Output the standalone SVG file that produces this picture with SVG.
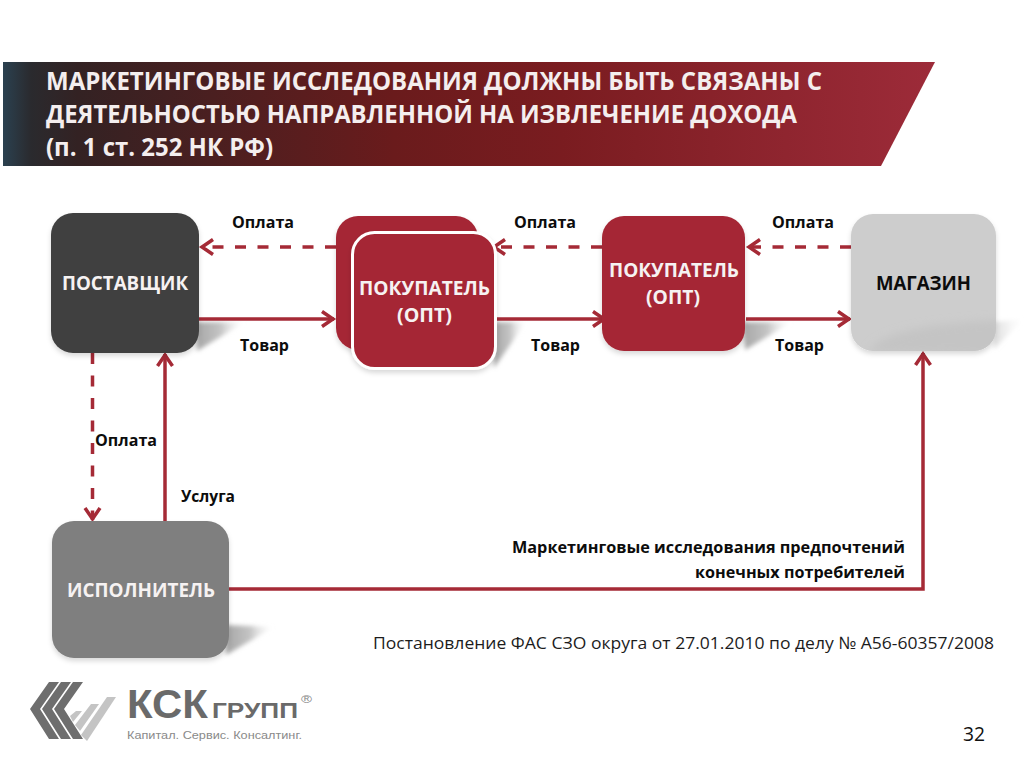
<svg xmlns="http://www.w3.org/2000/svg" width="1024" height="768" viewBox="0 0 1024 768">
<style>
text{font-family:"Open Sans","Liberation Sans",sans-serif}
.t{font-size:24.5px;font-weight:700;fill:#f4eeee}
.n{font-size:19.5px;font-weight:700;fill:#f6f2f2}
.l{font-size:16.5px;font-weight:700;fill:#0c0c0c}
.c{fill:none;stroke:#a52a36;stroke-width:3.5}
.d{stroke-dasharray:11 11.5}
.red{fill:#a52835}
.sh{fill:url(#sg);filter:url(#b)}
.g1{fill:#6e6e6e}.g2{fill:#c4c4c4}
.lg{font-family:"Liberation Sans",sans-serif}
</style>
<defs>
<linearGradient id="tg" x1="0" y1="0" x2="1" y2="0">
<stop offset="0" stop-color="#2b4150"/><stop offset="0.03" stop-color="#2a2a2e"/><stop offset="0.08" stop-color="#332223"/><stop offset="0.42" stop-color="#6a1b1c"/><stop offset="0.6" stop-color="#7a1c20"/><stop offset="1" stop-color="#9d2b39"/>
</linearGradient>
<linearGradient id="sg" x1="0" y1="0" x2="1" y2="0"><stop offset="0" stop-color="#a6a6a6"/><stop offset="0.5" stop-color="#c4c4c4"/><stop offset="1" stop-color="#f2f2f2" stop-opacity="0"/></linearGradient>
<linearGradient id="sg2" x1="0" y1="0" x2="1" y2="0"><stop offset="0" stop-color="#dcdcdc"/><stop offset="1" stop-color="#f6f6f6" stop-opacity="0"/></linearGradient>
<filter id="b" x="-20%" y="-20%" width="140%" height="140%"><feGaussianBlur stdDeviation="2.200"/></filter>
<filter id="b2" x="-20%" y="-40%" width="140%" height="180%"><feGaussianBlur stdDeviation="4"/></filter>
<filter id="s" x="-10%" y="-10%" width="120%" height="125%"><feDropShadow dx="0" dy="3" stdDeviation="2.500" flood-color="#000" flood-opacity="0.15"/></filter>
<clipPath id="mc"><rect x="851" y="214" width="145" height="137" rx="22"/></clipPath>
<marker id="a" markerUnits="userSpaceOnUse" markerWidth="20" markerHeight="20" viewBox="-16 -10 20 20" refX="0" refY="0" orient="auto" overflow="visible">
<path d="M-12,-7.500 L-1,0 L-12,7.500" fill="none" stroke="#a52a36" stroke-width="3.500"/>
</marker>
</defs>

<g id="title">
<polygon points="3,62 935,62 881,166 3,166" fill="url(#tg)"/>
<text class="t" x="46" y="90" textLength="776" lengthAdjust="spacingAndGlyphs">МАРКЕТИНГОВЫЕ ИССЛЕДОВАНИЯ ДОЛЖНЫ БЫТЬ СВЯЗАНЫ С</text>
<text class="t" x="46" y="123" textLength="751" lengthAdjust="spacingAndGlyphs">ДЕЯТЕЛЬНОСТЬЮ НАПРАВЛЕННОЙ НА ИЗВЛЕЧЕНИЕ ДОХОДА</text>
<text class="t" x="46" y="156" textLength="227" lengthAdjust="spacingAndGlyphs">(п. 1 ст. 252 НК РФ)</text>
</g>

<g id="shadows">
<polygon class="sh" points="196,322 245,322 197,351"/>
<polygon class="sh" points="494,322 526,322 494,368"/>
<polygon class="sh" points="743,322 792,322 745,350"/>
<polygon points="994,322 1024,319 994,349" fill="url(#sg2)" filter="url(#b)"/>
<polygon class="sh" points="226,625 274,627 226,655"/>
</g>

<g id="connectors">
<line class="c d" x1="336" y1="247" x2="201" y2="247" marker-end="url(#a)"/>
<line class="c" x1="199" y1="319" x2="334" y2="319" marker-end="url(#a)"/>
<line class="c d" x1="602" y1="247" x2="493" y2="247" marker-end="url(#a)"/>
<line class="c" x1="497" y1="319" x2="605" y2="319" marker-end="url(#a)"/>
<line class="c d" x1="851" y1="247" x2="748" y2="247" marker-end="url(#a)"/>
<line class="c" x1="746" y1="319" x2="850" y2="319" marker-end="url(#a)"/>
<line class="c d" x1="92.500" y1="353" x2="92.500" y2="520" marker-end="url(#a)"/>
<line class="c" x1="165" y1="522" x2="165" y2="354" marker-end="url(#a)"/>
<polyline class="c" points="229,589 923,589 923,353" marker-end="url(#a)"/>
</g>

<g id="postavshchik">
<rect x="51" y="213" width="148" height="140" rx="22" fill="#404040" filter="url(#s)"/>
<text class="n" x="62" y="290" textLength="126" lengthAdjust="spacingAndGlyphs">ПОСТАВЩИК</text>
</g>
<g id="pokupatel-back">
<rect x="336" y="216" width="142" height="134" rx="22" class="red" filter="url(#s)"/>
</g>
<g id="pokupatel-front">
<rect x="352.500" y="232.500" width="143" height="136" rx="22" class="red" stroke="#fff" stroke-width="3" filter="url(#s)"/>
<text class="n" x="359" y="295" textLength="131" lengthAdjust="spacingAndGlyphs">ПОКУПАТЕЛЬ</text>
<text class="n" x="397" y="322" textLength="55" lengthAdjust="spacingAndGlyphs">(ОПТ)</text>
</g>
<g id="pokupatel-right">
<rect x="602" y="216" width="143" height="135" rx="22" class="red" filter="url(#s)"/>
<text class="n" x="609" y="277" textLength="130" lengthAdjust="spacingAndGlyphs">ПОКУПАТЕЛЬ</text>
<text class="n" x="646" y="304" textLength="54" lengthAdjust="spacingAndGlyphs">(ОПТ)</text>
</g>
<g id="magazin">
<rect x="851" y="214" width="145" height="137" rx="22" fill="#cdcdcd" filter="url(#s)"/>
<g clip-path="url(#mc)"><path d="M868,352 Q885,325 1000,320 L1000,355 Z" fill="#c4c4c4" filter="url(#b2)"/></g>
<text class="n" x="876" y="290" textLength="95" lengthAdjust="spacingAndGlyphs" style="fill:#0c0c0c">МАГАЗИН</text>
</g>
<g id="ispolnitel">
<rect x="52" y="521" width="177" height="137" rx="22" fill="#7f7f7f" filter="url(#s)"/>
<text class="n" x="67" y="597" textLength="148" lengthAdjust="spacingAndGlyphs">ИСПОЛНИТЕЛЬ</text>
</g>

<g id="labels">
<text class="l" x="232" y="228" textLength="62" lengthAdjust="spacingAndGlyphs">Оплата</text>
<text class="l" x="514" y="228" textLength="62" lengthAdjust="spacingAndGlyphs">Оплата</text>
<text class="l" x="772" y="228" textLength="62" lengthAdjust="spacingAndGlyphs">Оплата</text>
<text class="l" x="240" y="351" textLength="49" lengthAdjust="spacingAndGlyphs">Товар</text>
<text class="l" x="531" y="351" textLength="49" lengthAdjust="spacingAndGlyphs">Товар</text>
<text class="l" x="775" y="351" textLength="49" lengthAdjust="spacingAndGlyphs">Товар</text>
<text class="l" x="95" y="446" textLength="62" lengthAdjust="spacingAndGlyphs">Оплата</text>
<text class="l" x="181" y="502" textLength="54" lengthAdjust="spacingAndGlyphs">Услуга</text>
<text class="l" x="512" y="553" textLength="393" lengthAdjust="spacingAndGlyphs">Маркетинговые исследования предпочтений</text>
<text class="l" x="695" y="578" textLength="210" lengthAdjust="spacingAndGlyphs">конечных потребителей</text>
<text x="373" y="649" font-size="17" fill="#1c1c1c" textLength="621" lengthAdjust="spacingAndGlyphs">Постановление ФАС СЗО округа от 27.01.2010 по делу № А56-60357/2008</text>
<text x="963" y="741" font-size="20" fill="#111" textLength="22" lengthAdjust="spacingAndGlyphs">32</text>
</g>

<g id="logo">
<polygon class="g2" points="70,716 76,711 82,711 73,722"/>
<polygon class="g2" points="75,725 91,704 99,704 80,731"/>
<polygon class="g2" points="81,735 107,697 116,697 87,741"/>
<polygon class="g1" points="49,682 59,682 40,709 59,739 49,739 30,709"/>
<polygon class="g1" points="61,682 71,682 52,709 71,739 61,739 42,709"/>
<polygon class="g1" points="73,682 83,682 64,709 83,739 73,739 54,709"/>
<text class="lg" x="127" y="718" font-size="41" font-weight="700" fill="#6a6a6a" textLength="81" lengthAdjust="spacingAndGlyphs">КСК</text>
<text class="lg" x="212" y="718" font-size="22" font-weight="700" fill="#6a6a6a" textLength="86" lengthAdjust="spacingAndGlyphs">ГРУПП</text>
<text class="lg" x="301" y="703" font-size="11" fill="#888" textLength="11" lengthAdjust="spacingAndGlyphs">®</text>
<text class="lg" x="127" y="739" font-size="11" fill="#8a8a8a" textLength="175" lengthAdjust="spacingAndGlyphs">Капитал. Сервис. Консалтинг.</text>
</g>
</svg>
